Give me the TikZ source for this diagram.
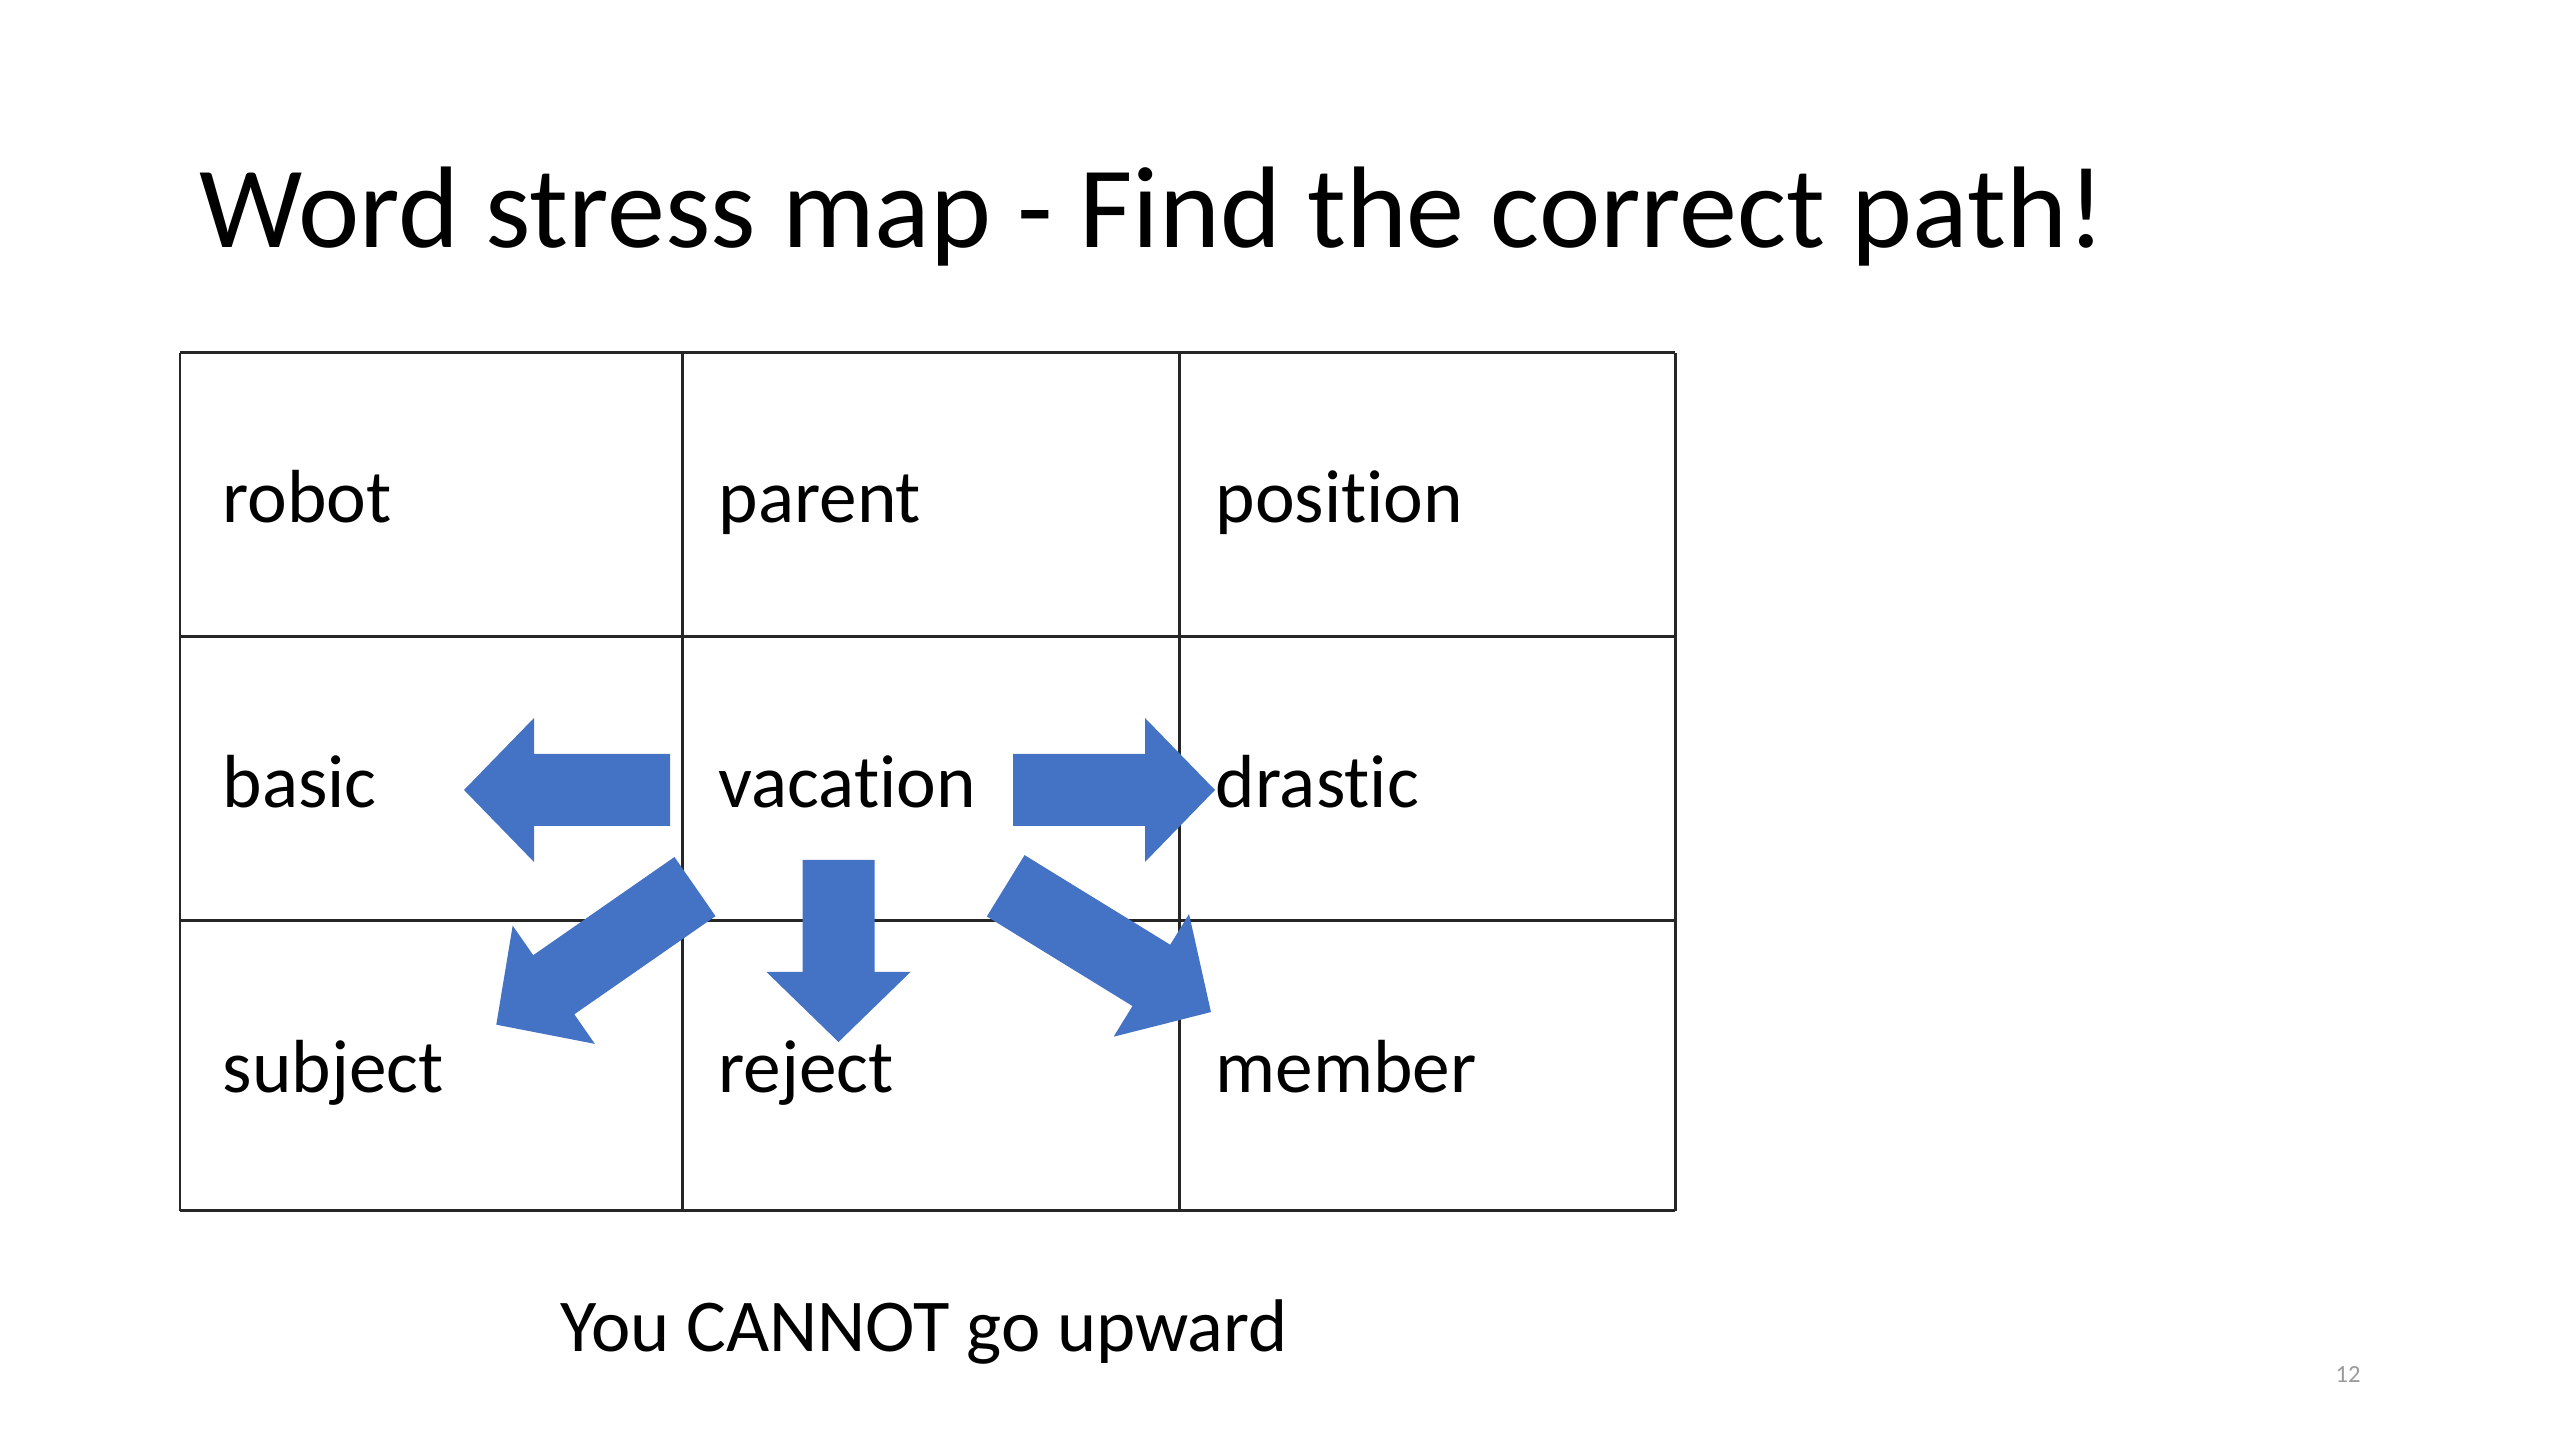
\documentclass[tikz,border=0pt]{standalone}
\usepackage{fontspec}
\setmainfont{Carlito}[RawFeature={-liga;-clig;-calt;-dlig}]
\usepackage{xcolor}
\usetikzlibrary{positioning}

\definecolor{arrowblue}{HTML}{4472C4}
\definecolor{pagegray}{HTML}{9A9A9A}

% block arrow: start x, start y, angle, length
\newcommand{\blockarrow}[4]{%
  \begin{scope}[shift={(#1,#2)}, rotate=#3]
    \fill[arrowblue] (0,-36) -- ({#4-70},-36) -- ({#4-70},-72) -- (#4,0)
      -- ({#4-70},72) -- ({#4-70},36) -- (0,36) -- cycle;
  \end{scope}}

\begin{document}
\begin{tikzpicture}[
    x=0.01cm, y=0.01cm,
    cellword/.style={anchor=base west, inner sep=0pt, font=\fontsize{21.4}{26}\selectfont},
    gridline/.style={line width=0.85pt, black!85}
]
\useasboundingbox (0,0) rectangle (2560,1440);

\node[anchor=base west, inner sep=0pt, font=\fontsize{33}{40}\selectfont] (title) at (199,1192) {Word stress map - Find the correct path!};

% grid
\foreach \gx in {180,682,1179,1675}
  \draw[gridline] (\gx,229) -- (\gx,1087);
\foreach \gy in {229,519,803,1087}
  \draw[gridline] (180,\gy) -- (1675,\gy);

% words
\node[cellword] (robot) at (222,917) {robot};
\node[cellword] (parent) at (718,917) {parent};
\node[cellword] (position) at (1215,917) {position};
\node[cellword] (basic) at (222,632) {basic};
\node[cellword] (vacation) at (718,632) {vacation};
\node[cellword] (drastic) at (1215,632) {drastic};
\node[cellword] (subject) at (222,347) {subject};
\node[cellword] (reject) at (718,347) {reject};
\node[cellword] (member) at (1215,347) {member};

% arrows out of vacation
\blockarrow{670}{650}{180}{206}
\blockarrow{1013}{650}{0}{202}
\blockarrow{838.5}{580}{270}{182}
\blockarrow{695}{553.4}{214.8}{242}
\blockarrow{1005.7}{554.2}{-31.6}{241}

\node[anchor=base west, inner sep=0pt, font=\fontsize{21.2}{26}\selectfont] (rule) at (560,88) {You CANNOT go upward};
\node[anchor=base west, inner sep=0pt, font=\fontsize{7}{8}\selectfont, text=pagegray] (pagenum) at (2335,57) {12};
\end{tikzpicture}
\end{document}
